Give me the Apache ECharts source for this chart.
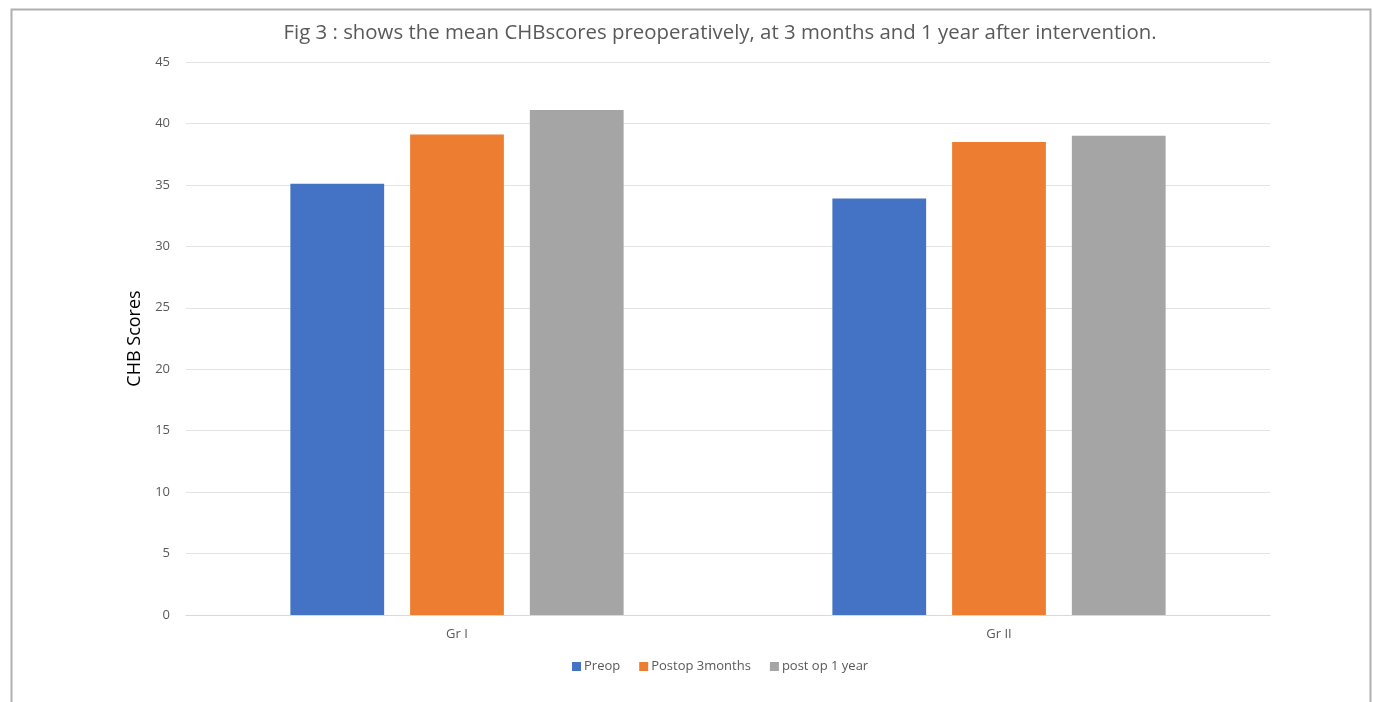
<!DOCTYPE html>
<html>
<head>
<meta charset="utf-8">
<script src="https://cdn.jsdelivr.net/npm/echarts@6/dist/echarts.min.js"></script>
<style>
  html, body { margin: 0; padding: 0; background: #ffffff; }
  #chart { width: 1373px; height: 702px; }
</style>
</head>
<body>
<div id="chart"></div>
<script>
// Mean CHB scores per group at three time points
const groups = ['Gr I', 'Gr II'];
const preop = [35.1, 33.9];
const postop3months = [39.1, 38.5];
const postop1year = [41.1, 39.0];
const seriesNames = ['Preop', 'Postop 3months', 'post op 1 year'];
const colors = ['#4472c4', '#ed7d31', '#a5a5a5'];

const chart = echarts.init(document.getElementById('chart'));
const font = '"Open Sans", "Noto Sans", sans-serif';

chart.setOption({
  animation: false,
  textStyle: { fontFamily: font },
  title: {
    text: 'Fig 3 : shows the mean CHBscores preoperatively, at 3 months and 1 year after intervention.',
    left: 715, top: 18, textAlign: 'center',
    textStyle: { fontSize: 20.4, fontWeight: 'normal', color: '#595959', fontFamily: font }
  },
  graphic: [{
    type: 'rect', left: 9, top: 7,
    shape: { width: 1359, height: 700 },
    style: { fill: 'none', stroke: '#b0b0b0', lineWidth: 2 },
    silent: true
  }],
  legend: {
    data: seriesNames,
    left: 567, top: 655,
    itemWidth: 9, itemHeight: 9, itemGap: 19,
    icon: 'rect',
    textStyle: { fontSize: 13, color: '#595959', fontFamily: font, padding: [0, 0, 0, -2] }
  },
  grid: { left: 186, right: 103, top: 62, bottom: 87 },
  xAxis: {
    type: 'category', data: groups,
    axisLine: { lineStyle: { color: '#d9d9d9', width: 1 } },
    axisTick: { show: false },
    axisLabel: { color: '#595959', fontSize: 13, margin: 13 }
  },
  yAxis: {
    type: 'value', min: 0, max: 45, interval: 5,
    name: 'CHB Scores', nameLocation: 'middle', nameGap: 37, nameRotate: 90,
    nameTextStyle: { color: '#000000', fontSize: 18, fontFamily: font },
    axisLine: { show: false }, axisTick: { show: false },
    axisLabel: { color: '#595959', fontSize: 13, margin: 16 },
    splitLine: { lineStyle: { color: '#e3e3e3', width: 1 } }
  },
  series: [
    { name: seriesNames[0], type: 'bar', data: preop, barWidth: '17.3%', barGap: '27.7%', itemStyle: { color: colors[0] } },
    { name: seriesNames[1], type: 'bar', data: postop3months, barWidth: '17.3%', barGap: '27.7%', itemStyle: { color: colors[1] } },
    { name: seriesNames[2], type: 'bar', data: postop1year, barWidth: '17.3%', barGap: '27.7%', itemStyle: { color: colors[2] } }
  ]
});
</script>
</body>
</html>
